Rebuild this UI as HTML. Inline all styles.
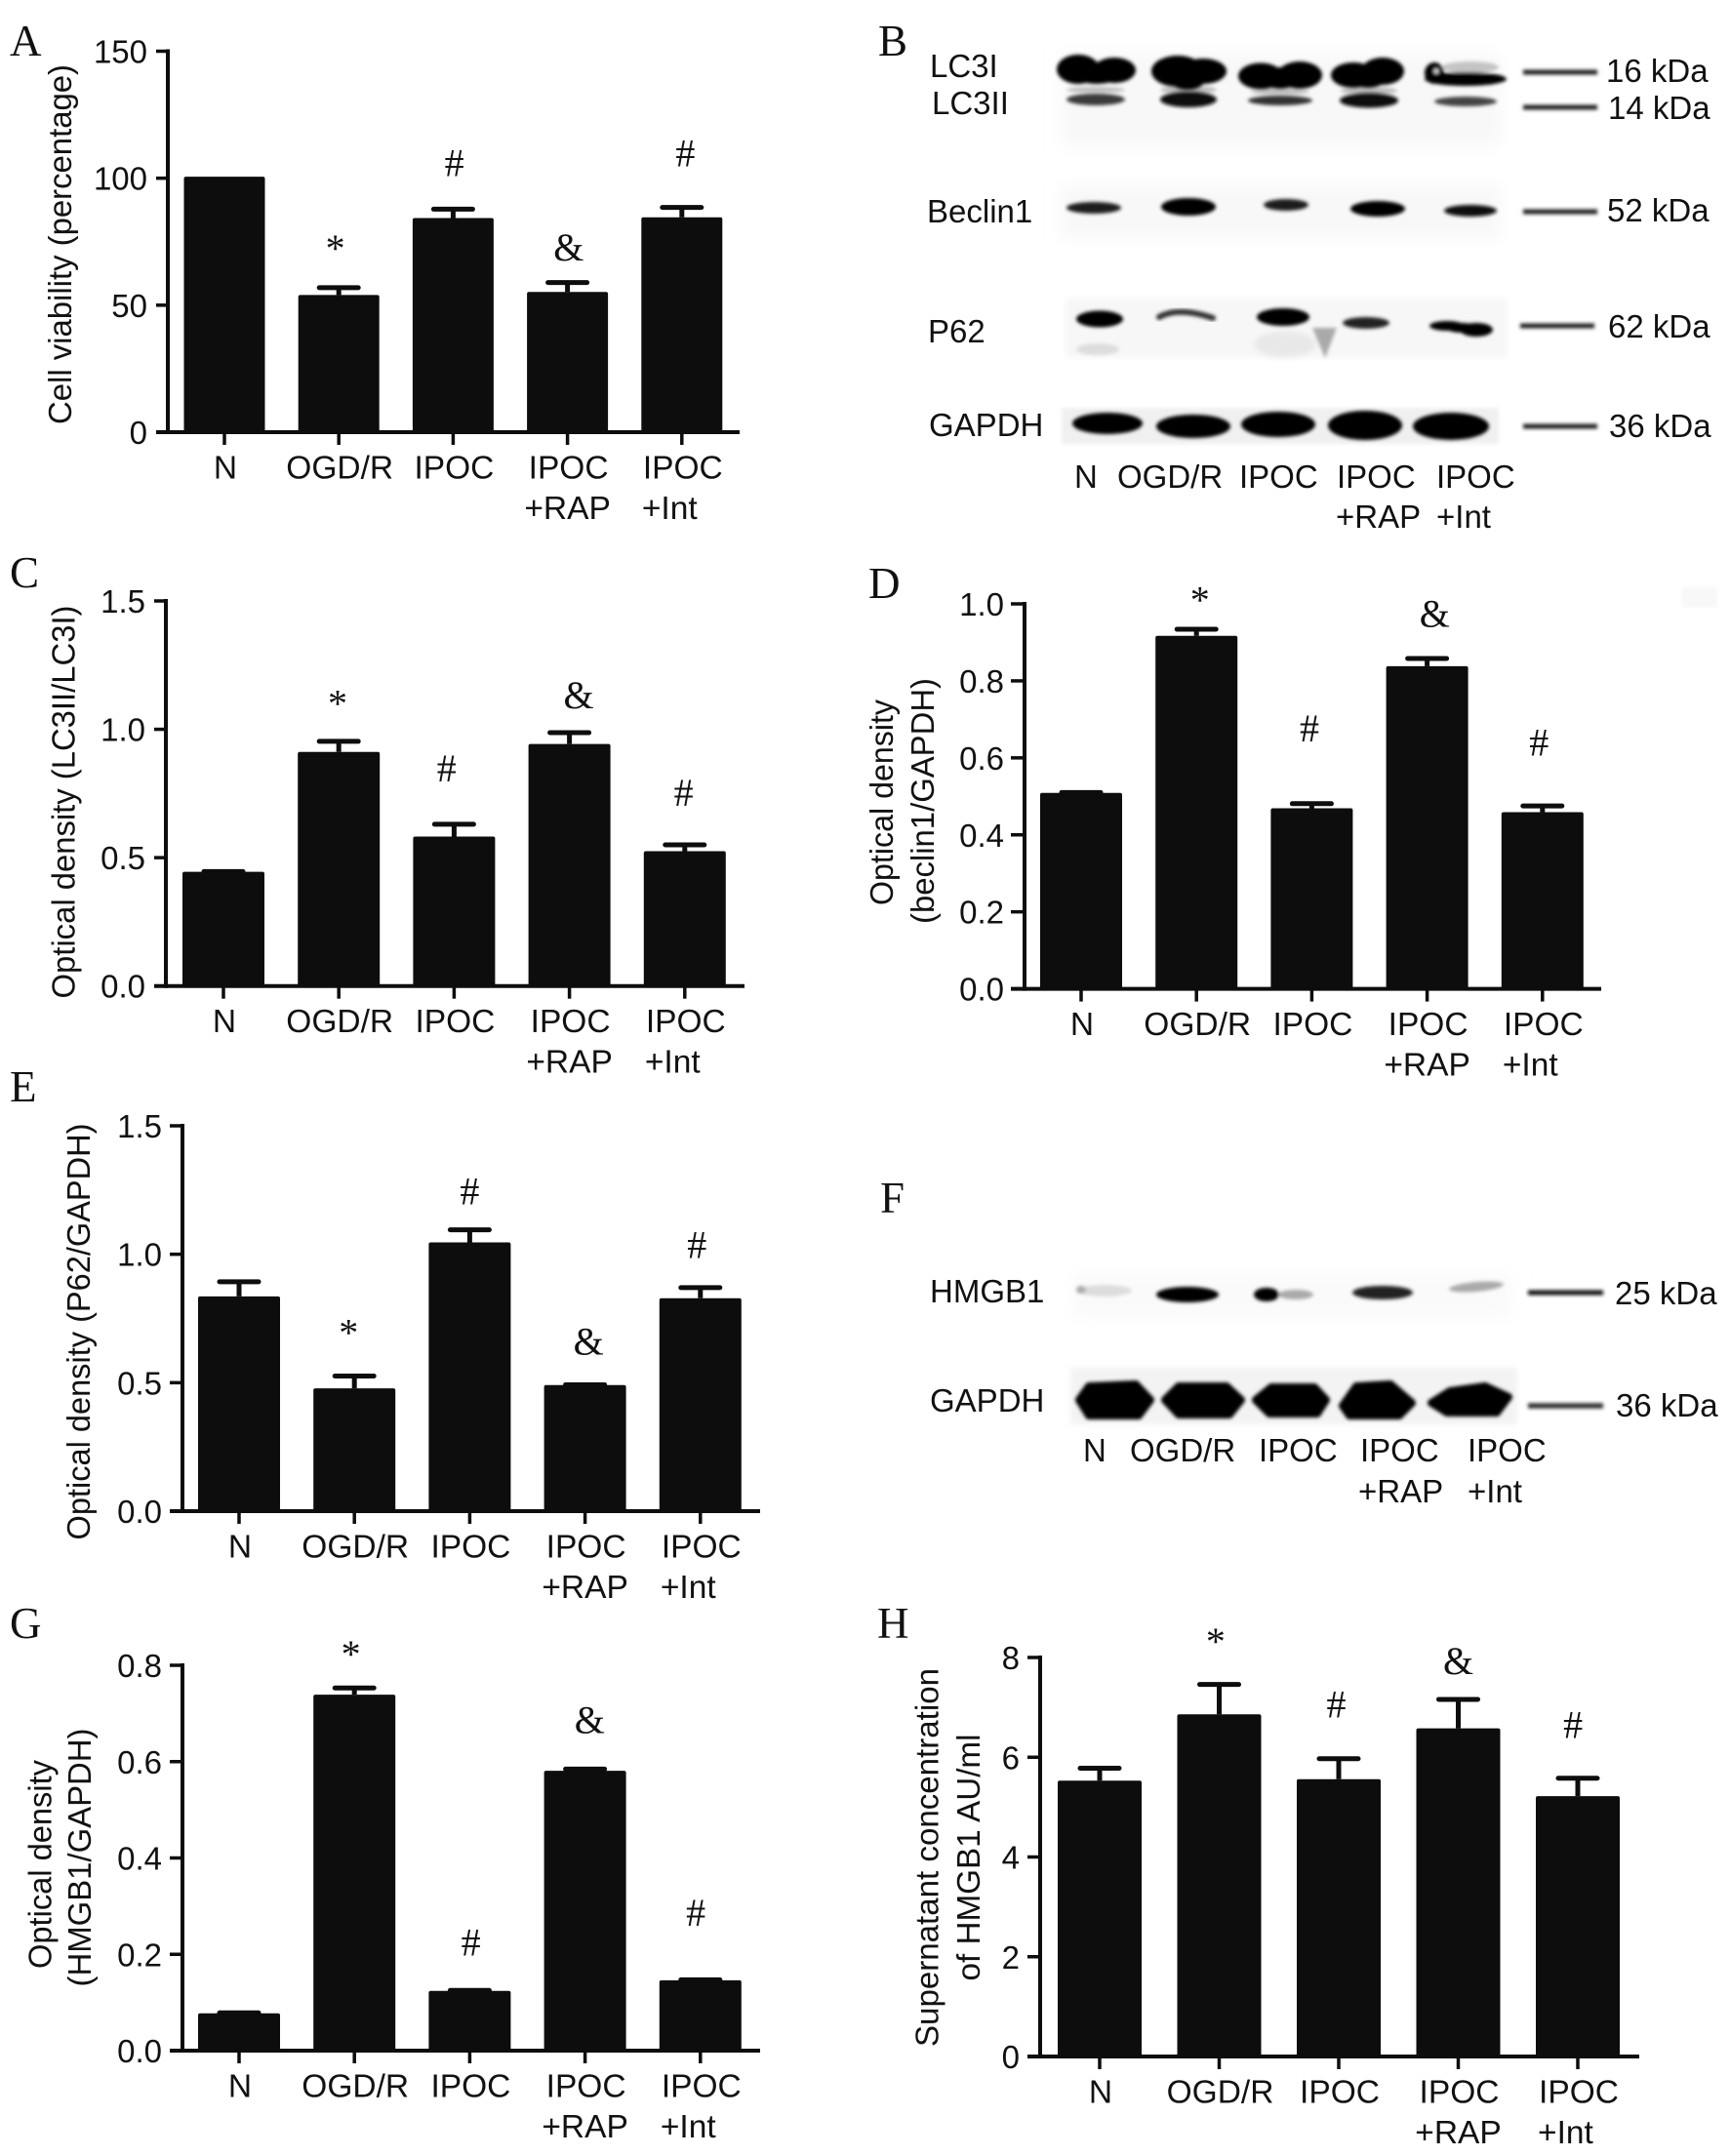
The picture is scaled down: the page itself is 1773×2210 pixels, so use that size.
<!DOCTYPE html>
<html lang="en">
<head>
<meta charset="utf-8">
<title>Eight-panel figure: autophagy and HMGB1 blots with bar charts</title>
<style>
html,body{margin:0;padding:0;background:#fff}
svg{display:block}
text{font-family:"Liberation Sans",Arial,sans-serif;fill:#111}
.serif{font-family:"Liberation Serif","Times New Roman",serif}
.letter{font-family:"Liberation Serif","Times New Roman",serif;font-size:45px}
.lab{font-size:33px}
</style>
</head>
<body>
<svg id="figure" xmlns="http://www.w3.org/2000/svg" width="1773" height="2210" viewBox="0 0 1773 2210">
<defs>
<filter id="b1" x="-30%" y="-60%" width="160%" height="220%"><feGaussianBlur stdDeviation="1.8"/></filter>
<filter id="b2" x="-30%" y="-80%" width="160%" height="260%"><feGaussianBlur stdDeviation="3"/></filter>
<filter id="b3" x="-10%" y="-30%" width="120%" height="160%"><feGaussianBlur stdDeviation="8"/></filter>
</defs>
<rect width="1773" height="2210" fill="#fff"/>
<rect x="1724" y="602" width="36" height="20" fill="#f8f8f8" filter="url(#b1)"/>

<g>
<text class="letter" x="10" y="57">A</text>
<text class="letter" x="900" y="57">B</text>
<text class="letter" x="10" y="602">C</text>
<text class="letter" x="890" y="613">D</text>
<text class="letter" x="10" y="1129">E</text>
<text class="letter" x="902" y="1243">F</text>
<text class="letter" x="10" y="1679">G</text>
<text class="letter" x="899" y="1679">H</text>
</g>

<g>
<g fill="#f8f8f8" filter="url(#b3)">
<rect x="1088" y="55" width="450" height="95"/>
<rect x="1088" y="190" width="450" height="55"/>
</g>
<rect x="1092" y="305" width="453" height="62" fill="#f7f7f7" filter="url(#b2)"/>
<rect x="1088" y="418" width="448" height="37" fill="#f0f0f0" filter="url(#b1)"/>

<g fill="#bdbdbd" filter="url(#b1)">
<ellipse cx="1123" cy="92" rx="30" ry="3"/>
<ellipse cx="1218" cy="92" rx="29" ry="4"/>
<ellipse cx="1312" cy="94" rx="30" ry="3"/>
<ellipse cx="1403" cy="93" rx="29" ry="4"/>
</g>
<g filter="url(#b1)" fill="#000">
<g><ellipse cx="1105" cy="71" rx="22" ry="15"/><ellipse cx="1142" cy="72" rx="22" ry="13"/><ellipse cx="1124" cy="75" rx="26" ry="11"/></g>
<g><ellipse cx="1207" cy="73" rx="27" ry="16"/><ellipse cx="1233" cy="73" rx="24" ry="13"/><ellipse cx="1220" cy="75" rx="22" ry="14"/><ellipse cx="1217" cy="83" rx="17" ry="9"/></g>
<g><ellipse cx="1292" cy="78" rx="23" ry="13.5"/><ellipse cx="1332" cy="77" rx="23" ry="14"/><ellipse cx="1312" cy="80" rx="20" ry="11"/></g>
<g><ellipse cx="1387" cy="77" rx="23" ry="13"/><ellipse cx="1417" cy="73" rx="22" ry="14"/><ellipse cx="1402" cy="78" rx="20" ry="12"/></g>
<g><ellipse cx="1507" cy="69" rx="29" ry="6" fill="#c4c4c4"/><ellipse cx="1502" cy="81" rx="42" ry="7"/><ellipse cx="1470" cy="75" rx="10" ry="11"/><circle cx="1472" cy="73" r="2.5" fill="#ddd"/></g>
</g>
<g filter="url(#b1)">
<ellipse cx="1123" cy="102" rx="30" ry="6" fill="#3a3a3a"/>
<ellipse cx="1218" cy="102" rx="29" ry="8" fill="#0a0a0a"/>
<ellipse cx="1312" cy="103" rx="33" ry="5" fill="#333"/>
<ellipse cx="1403" cy="103" rx="30" ry="7.5" fill="#111"/>
<ellipse cx="1502" cy="104" rx="32" ry="5" fill="#444"/>
</g>
<g filter="url(#b1)">
<ellipse cx="1121" cy="213" rx="28" ry="6" fill="#1c1c1c"/>
<ellipse cx="1218" cy="212" rx="28" ry="9" fill="#000"/>
<ellipse cx="1318" cy="210" rx="23" ry="6" fill="#1c1c1c"/>
<ellipse cx="1412" cy="214" rx="28" ry="8" fill="#000"/>
<ellipse cx="1507" cy="216" rx="27" ry="6" fill="#111"/>
</g>
<g>
<ellipse cx="1125" cy="358" rx="22" ry="6" fill="#ddd" filter="url(#b1)"/>
<ellipse cx="1317" cy="353" rx="32" ry="13" fill="#e8e8e8" filter="url(#b2)"/>
<path d="M1345 336L1370 336L1358 367Z" fill="#aaa" filter="url(#b1)"/>
<ellipse cx="1127" cy="327" rx="24" ry="8.5" fill="#000" filter="url(#b1)"/>
<path d="M1188 325Q1207 314 1243 326" fill="none" stroke="#333" stroke-width="6" stroke-linecap="round" filter="url(#b1)"/>
<ellipse cx="1315" cy="325" rx="27" ry="9" fill="#000" filter="url(#b1)"/>
<ellipse cx="1400" cy="331" rx="24" ry="6" fill="#222" filter="url(#b1)"/>
<g fill="#000" filter="url(#b1)"><ellipse cx="1483" cy="334" rx="18" ry="5"/><ellipse cx="1498" cy="336" rx="16" ry="5"/><ellipse cx="1513" cy="338" rx="17" ry="7"/></g>
</g>
<g fill="#000" filter="url(#b1)">
<ellipse cx="1135" cy="434" rx="36" ry="11"/>
<ellipse cx="1223" cy="437" rx="38" ry="12"/>
<ellipse cx="1310" cy="435" rx="38" ry="13"/>
<ellipse cx="1399" cy="436" rx="38" ry="15"/>
<ellipse cx="1487" cy="437" rx="39" ry="14"/>
</g>
<g stroke="#222" stroke-width="5" filter="url(#b1)">
<line x1="1561" x2="1637" y1="74" y2="74"/>
<line x1="1561" x2="1637" y1="110" y2="110"/>
<line x1="1561" x2="1637" y1="217" y2="217"/>
<line x1="1558" x2="1634" y1="334" y2="334"/>
<line x1="1561" x2="1637" y1="437" y2="437"/>
</g>
<g class="lab">
<text x="953" y="79">LC3I</text>
<text x="955" y="117">LC3II</text>
<text x="950" y="228">Beclin1</text>
<text x="951" y="351">P62</text>
<text x="952" y="447">GAPDH</text>
<text x="1646" y="84">16 kDa</text>
<text x="1648" y="122">14 kDa</text>
<text x="1647" y="227">52 kDa</text>
<text x="1648" y="346">62 kDa</text>
<text x="1649" y="448">36 kDa</text>
<text x="1101" y="500">N</text>
<text x="1145" y="500">OGD/R</text>
<text x="1270" y="500">IPOC</text>
<text x="1370" y="500">IPOC</text>
<text x="1369" y="541">+RAP</text>
<text x="1472" y="500">IPOC</text>
<text x="1472" y="541">+Int</text>
</g>
</g>

<g>
<rect x="1100" y="1305" width="450" height="45" fill="#fafafa" filter="url(#b3)"/>
<rect x="1097" y="1402" width="458" height="58" fill="#f3f3f3" filter="url(#b2)"/>
<g filter="url(#b1)">
<g><ellipse cx="1132" cy="1323" rx="28" ry="6" fill="#ddd"/><ellipse cx="1108" cy="1322" rx="5" ry="4" fill="#aaa"/></g>
<ellipse cx="1217" cy="1327" rx="32" ry="8" fill="#000"/>
<g><ellipse cx="1328" cy="1327" rx="18" ry="5" fill="#aaa"/><ellipse cx="1298" cy="1327" rx="13" ry="7" fill="#000"/></g>
<ellipse cx="1417" cy="1325" rx="31" ry="7" fill="#222"/>
<ellipse cx="1513" cy="1319" rx="28" ry="5" fill="#aaa" transform="rotate(-5 1513 1319)"/>
</g>
<g fill="#000" stroke="#000" stroke-width="8" stroke-linejoin="round" filter="url(#b1)">
<polygon points="1106,1435 1116,1421 1164,1419 1179,1435 1167,1451 1116,1451"/>
<polygon points="1194,1435 1208,1421 1257,1421 1272,1435 1260,1450 1208,1450"/>
<polygon points="1287,1435 1303,1422 1347,1422 1359,1435 1350,1449 1301,1449"/>
<polygon points="1376,1441 1390,1421 1425,1419 1447,1438 1434,1451 1383,1451"/>
<polygon points="1467,1438 1486,1426 1522,1421 1546,1432 1534,1448 1483,1448"/>
</g>
<g filter="url(#b1)">
<line x1="1566" x2="1643" y1="1325" y2="1325" stroke="#111" stroke-width="5"/>
<line x1="1566" x2="1643" y1="1441" y2="1441" stroke="#333" stroke-width="5.5"/>
</g>
<g class="lab">
<text x="953" y="1335">HMGB1</text>
<text x="953" y="1447">GAPDH</text>
<text x="1655" y="1337">25 kDa</text>
<text x="1656" y="1452">36 kDa</text>
<text x="1110" y="1498">N</text>
<text x="1158" y="1498">OGD/R</text>
<text x="1290" y="1498">IPOC</text>
<text x="1394" y="1498">IPOC</text>
<text x="1392" y="1540">+RAP</text>
<text x="1504" y="1498">IPOC</text>
<text x="1504" y="1540">+Int</text>
</g>
</g>

<g id="charts"></g>
</svg>

<script>
const categoriesLine1 = ['N', 'OGD/R', 'IPOC', 'IPOC', 'IPOC'];
const categoriesLine2 = ['', '', '', '+RAP', '+Int'];
const symbols = ['*', '#', '&', '#'];

const panelATicks = ['0', '50', '100', '150'];
const panelAValues = [100.6, 54, 84.3, 55.2, 84.6];
const panelAErrors = [0, 2.9, 3.5, 3.7, 3.9];
const panelASymbolSlots = [0.97, 2.01, 3.01, 4.03];
const panelASymbolLevels = [73.9, 105.6, 71.9, 109.4];

const panelCTicks = ['0.0', '0.5', '1.0', '1.5'];
const panelCValues = [0.445, 0.912, 0.582, 0.943, 0.525];
const panelCErrors = [0.001, 0.041, 0.048, 0.044, 0.025];
const panelCSymbolSlots = [0.99, 1.935, 3.08, 3.99];
const panelCSymbolLevels = [1.116, 0.844, 1.123, 0.749];

const panelDTicks = ['0.0', '0.2', '0.4', '0.6', '0.8', '1.0'];
const panelDValues = [0.509, 0.917, 0.469, 0.838, 0.459];
const panelDErrors = [0.001, 0.017, 0.012, 0.02, 0.016];
const panelDSymbolSlots = [1.03, 1.98, 3.065, 3.97];
const panelDSymbolLevels = [1.02, 0.674, 0.968, 0.638];

const panelETicks = ['0.0', '0.5', '1.0', '1.5'];
const panelEValues = [0.836, 0.478, 1.046, 0.491, 0.829];
const panelEErrors = [0.057, 0.048, 0.049, 0.001, 0.041];
const panelESymbolSlots = [0.95, 2, 3.03, 3.97];
const panelESymbolLevels = [0.71, 1.242, 0.651, 1.033];

const panelGTicks = ['0.0', '0.2', '0.4', '0.6', '0.8'];
const panelGValues = [0.0775, 0.739, 0.124, 0.581, 0.146];
const panelGErrors = [0.001, 0.014, 0.001, 0.0036, 0.001];
const panelGSymbolSlots = [0.97, 2.01, 3.04, 3.96];
const panelGSymbolLevels = [0.831, 0.223, 0.682, 0.285];

const panelHTicks = ['0', '2', '4', '6', '8'];
const panelHValues = [5.53, 6.86, 5.56, 6.58, 5.22];
const panelHErrors = [0.25, 0.6, 0.41, 0.58, 0.36];
const panelHSymbolSlots = [0.97, 1.98, 3, 3.96];
const panelHSymbolLevels = [8.4, 7.04, 7.88, 6.63];

const SVGNS = 'http://www.w3.org/2000/svg';
function mk(tag, attrs, parent, content) {
  const el = document.createElementNS(SVGNS, tag);
  Object.keys(attrs).forEach(function (k) { el.setAttribute(k, attrs[k]); });
  if (content !== undefined) el.textContent = content;
  parent.appendChild(el);
  return el;
}

const INK = '#0d0d0d';
const SYMBOL_DROP = { '*': 17.5, '#': 12.5, '&': 11 };

function drawPanel(id, layout, ticks, values, errors, slots, levels) {
  const root = document.getElementById('charts');
  const g = mk('g', {}, root);
  
  

  const tickValues = ticks.map(Number);
  const maxTick = Math.max.apply(null, tickValues);
  const y = function (v) { return layout.y0 - (v / maxTick) * (layout.y0 - layout.yTop); };
  const x = function (i) { return layout.c0 + i * layout.step; };

  values.forEach(function (v, i) {
    const bar = mk('rect', { x: x(i) - layout.bw / 2, y: y(v), width: layout.bw, height: layout.y0 - y(v) + 1, rx: 2, fill: INK }, g);
    
    

    if (errors[i] > 0) {
      const stem = mk('line', { x1: x(i), x2: x(i), y1: y(v), y2: y(v + errors[i]), stroke: INK, 'stroke-width': 5 }, g);
      
      

      const cap = mk('line', { x1: x(i) - 20, x2: x(i) + 20, y1: y(v + errors[i]), y2: y(v + errors[i]), stroke: INK, 'stroke-width': 5, 'stroke-linecap': 'round' }, g);
      
      
    }
  });

  const yAxis = mk('line', { x1: layout.axisX, x2: layout.axisX, y1: layout.yTop - 2, y2: layout.y0 + 2, stroke: INK, 'stroke-width': 4 }, g);
  
  

  const xAxis = mk('line', { x1: layout.xStart, x2: layout.xEnd, y1: layout.y0, y2: layout.y0, stroke: INK, 'stroke-width': 4 }, g);
  
  

  ticks.forEach(function (t, i) {
    const tv = tickValues[i];
    const tick = mk('line', { x1: layout.xStart, x2: layout.axisX, y1: y(tv), y2: y(tv), stroke: INK, 'stroke-width': 3.5 }, g);
    
    

    const label = mk('text', { x: layout.axisX - 21, y: y(tv) + 12, 'text-anchor': 'end', 'font-size': 33 }, g, t);
    
    
  });

  categoriesLine1.forEach(function (name, i) {
    const xTick = mk('line', { x1: x(i), x2: x(i), y1: layout.y0, y2: layout.y0 + 13, stroke: INK, 'stroke-width': 3.5 }, g);
    
    

    const first = mk('text', { x: x(i) + 1, y: layout.y0 + 47.5, 'text-anchor': 'middle', 'font-size': 33.5 }, g, name);
    
    

    if (categoriesLine2[i]) {
      const second = mk('text', { x: x(i), y: layout.y0 + 89, 'font-size': 33.5 }, g, categoriesLine2[i]);
      
      
      const w1 = first.getComputedTextLength();
      const w2 = second.getComputedTextLength();
      second.setAttribute('x', x(i) - Math.max(w1, w2) / 2);
    }
  });

  symbols.forEach(function (s, i) {
    const mark = mk('text', { x: x(slots[i]), y: y(levels[i]) + SYMBOL_DROP[s], 'text-anchor': 'middle', 'font-size': 40, 'class': 'serif' }, g, s);
    
    
  });

  layout.titles.forEach(function (t, i) {
    const title = mk('text', { x: t.x, y: t.cy, 'text-anchor': 'middle', 'font-size': 33, textLength: t.len, lengthAdjust: 'spacingAndGlyphs', transform: 'rotate(-90 ' + t.x + ' ' + t.cy + ')' }, g, t.text);
    
    
  });
}

drawPanel('a', { axisX: 172, yTop: 52.5, y0: 443, xStart: 160, xEnd: 758, c0: 230, step: 117.2, bw: 83,
  titles: [{ text: 'Cell viability (percentage)', x: 73, cy: 250.5, len: 369 }] },
  panelATicks, panelAValues, panelAErrors, panelASymbolSlots, panelASymbolLevels);

drawPanel('c', { axisX: 170, yTop: 616, y0: 1010.7, xStart: 158, xEnd: 763, c0: 229, step: 118.2, bw: 84,
  titles: [{ text: 'Optical density (LC3II/LC3I)', x: 76.5, cy: 822, len: 403 }] },
  panelCTicks, panelCValues, panelCErrors, panelCSymbolSlots, panelCSymbolLevels);

drawPanel('d', { axisX: 1050, yTop: 619, y0: 1013.6, xStart: 1036, xEnd: 1641, c0: 1108, step: 118.2, bw: 84,
  titles: [{ text: 'Optical density', x: 915, cy: 822.5, len: 211 }, { text: '(beclin1/GAPDH)', x: 957, cy: 821, len: 252 }] },
  panelDTicks, panelDValues, panelDErrors, panelDSymbolSlots, panelDSymbolLevels);

drawPanel('e', { axisX: 187, yTop: 1154, y0: 1549, xStart: 174, xEnd: 779, c0: 245, step: 118.2, bw: 84,
  titles: [{ text: 'Optical density (P62/GAPDH)', x: 92, cy: 1365, len: 427 }] },
  panelETicks, panelEValues, panelEErrors, panelESymbolSlots, panelESymbolLevels);

drawPanel('g', { axisX: 187, yTop: 1707, y0: 2102, xStart: 174, xEnd: 779, c0: 245, step: 118.2, bw: 84,
  titles: [{ text: 'Optical density', x: 52.5, cy: 1911, len: 214 }, { text: '(HMGB1/GAPDH)', x: 93, cy: 1904, len: 265 }] },
  panelGTicks, panelGValues, panelGErrors, panelGSymbolSlots, panelGSymbolLevels);

drawPanel('h', { axisX: 1066, yTop: 1699, y0: 2108, xStart: 1053, xEnd: 1680, c0: 1127, step: 122.5, bw: 86,
  titles: [{ text: 'Supernatant concentration', x: 961.6, cy: 1904, len: 388 }, { text: 'of HMGB1 AU/ml', x: 1004, cy: 1904, len: 253 }] },
  panelHTicks, panelHValues, panelHErrors, panelHSymbolSlots, panelHSymbolLevels);
</script>
</body>
</html>
